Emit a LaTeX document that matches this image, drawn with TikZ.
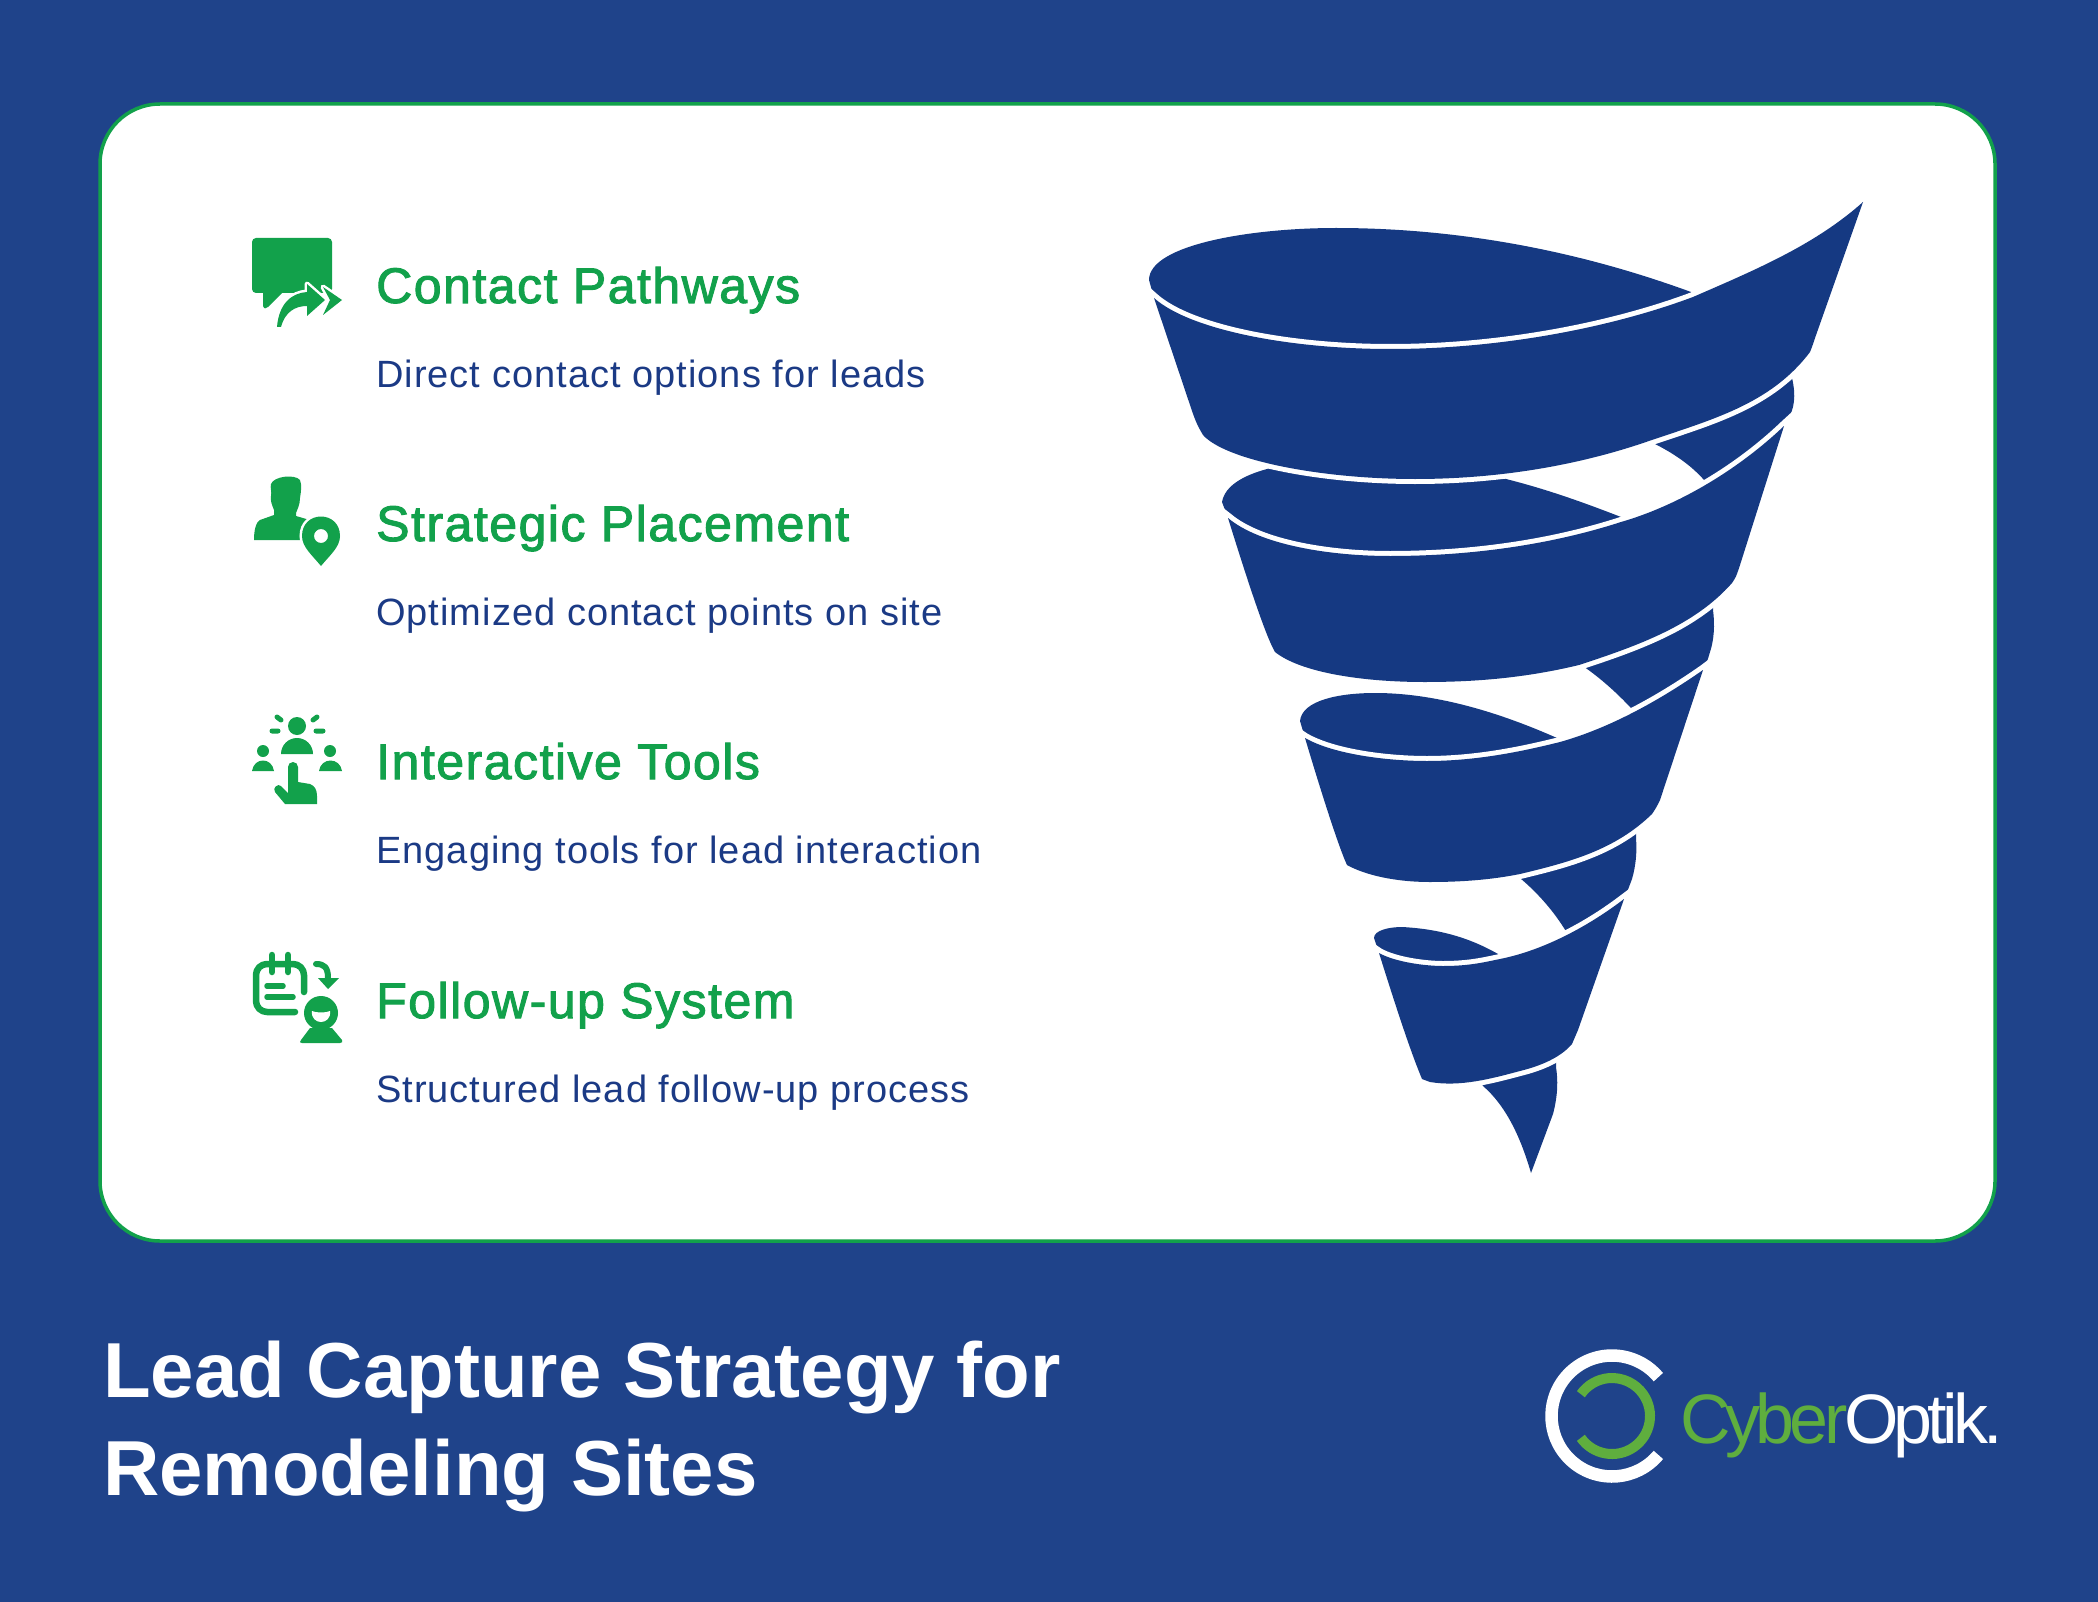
\documentclass[tikz,border=0pt]{standalone}
\usepackage{fontspec}
\setmainfont[LetterSpace=2.7]{Liberation Sans}
\newfontfamily\headfont[FakeBold=2,LetterSpace=3]{Liberation Sans}
\newfontfamily\titlefont{Liberation Sans}
\newfontfamily\logofont[LetterSpace=-7]{Liberation Sans}
\definecolor{bgblue}{HTML}{1F438A}
\definecolor{funnel}{HTML}{153982}
\definecolor{gr}{HTML}{12A14B}
\definecolor{txtblue}{HTML}{1B3A85}
\definecolor{logogreen}{HTML}{5FAE3E}
\tikzset{
 head/.style={anchor=base west,inner sep=0pt,text=gr,font=\headfont\fontsize{50}{58}\selectfont},
 desc/.style={anchor=base west,inner sep=0pt,text=txtblue,font=\fontsize{38}{44}\selectfont},
 ttl/.style={anchor=base west,inner sep=0pt,text=white,font=\titlefont\bfseries\fontsize{78}{90}\selectfont},
 logot/.style={anchor=base west,inner sep=0pt,font=\logofont\fontsize{70}{80}\selectfont},
 fun/.style={fill=funnel,draw=none},
 gap/.style={draw=white,line width=10pt,line cap=butt},
 ic/.style={fill=gr,draw=none},
 icl/.style={draw=gr,line cap=round,line join=round},
 halo/.style={draw=white,line width=5pt,line join=round},
}
\begin{document}
\begin{tikzpicture}[x=1pt,y=-1pt]
\useasboundingbox (0,0) rectangle (2098,1602);
\fill[bgblue] (0,0) rectangle (2098,1602);
\draw[gr,line width=3.5pt,fill=white,rounded corners=60pt] (100,104) rectangle (1995,1241);

% lids and back pieces, extended under the bands
\fill[fun] (1154,298) -- (1149,280) .. controls (1149,245) and (1250,228) .. (1336,228)
  .. controls (1470,228) and (1590,255) .. (1691,292) -- (1693,297)
  .. controls (1610,328) and (1500,349) .. (1390,349)
  .. controls (1290,349) and (1190,330) .. (1154,298) -- cycle;
\fill[fun] (1638,436) .. controls (1695,420) and (1755,395) .. (1795,368)
  -- (1792,378) .. controls (1796,395) and (1795,410) .. (1786,422)
  -- (1784,432) .. controls (1765,450) and (1735,475) .. (1712,490)
  .. controls (1695,466) and (1670,450) .. (1638,436) -- cycle;
\fill[fun] (1290,460) -- (1490,470) -- (1506,479)
  .. controls (1550,490) and (1590,505) .. (1621,517) -- (1621,522)
  .. controls (1550,545) and (1470,556) .. (1390,556)
  .. controls (1330,556) and (1260,545) .. (1228,518) -- (1222,502)
  .. controls (1225,485) and (1245,475) .. (1267,469) -- cycle;
\fill[fun] (1567,656) .. controls (1625,645) and (1675,625) .. (1713,603)
  -- (1713,610) .. controls (1715,625) and (1714,640) .. (1710,652)
  -- (1703,675) .. controls (1695,682) and (1665,700) .. (1640,718)
  .. controls (1620,695) and (1595,672) .. (1567,656) -- cycle;
\fill[fun] (1305,738) -- (1300,721) .. controls (1302,700) and (1340,693) .. (1375,693)
  .. controls (1440,693) and (1505,715) .. (1557,738) -- (1560,742)
  .. controls (1520,752) and (1475,761) .. (1427,761)
  .. controls (1390,761) and (1335,755) .. (1305,738) -- cycle;
\fill[fun] (1507,868) .. controls (1565,862) and (1605,848) .. (1636,831)
  -- (1636,838) .. controls (1637,852) and (1636,865) .. (1632,879)
  -- (1624,900) .. controls (1610,912) and (1590,925) .. (1572,942)
  .. controls (1558,915) and (1535,888) .. (1507,868) -- cycle;
\fill[fun] (1379,953) -- (1374,938) .. controls (1374,930) and (1390,927) .. (1402,927)
  .. controls (1440,929) and (1470,938) .. (1498,954) -- (1500,959)
  .. controls (1485,962) and (1470,966) .. (1443,966)
  .. controls (1425,966) and (1395,962) .. (1379,953) -- cycle;
\fill[fun] (1476,1075) -- (1556,1055) -- (1556,1067)
  .. controls (1558,1080) and (1558,1095) .. (1553,1114)
  -- (1531,1173)
  .. controls (1520,1135) and (1505,1105) .. (1483,1086) -- cycle;

% band 4
\draw[gap] (1370,947) -- (1379,953) .. controls (1395,962) and (1425,966) .. (1443,966)
  .. controls (1470,966) and (1485,962) .. (1500,959)
  .. controls (1545,950) and (1590,925) .. (1624,899) -- (1636,890);
\draw[gap] (1572,1044) .. controls (1560,1058) and (1540,1066) .. (1520,1071)
  .. controls (1490,1079) and (1460,1087) .. (1430,1082);
\fill[fun] (1379,953) .. controls (1395,962) and (1425,966) .. (1443,966)
  .. controls (1470,966) and (1485,962) .. (1500,959)
  .. controls (1545,950) and (1590,925) .. (1624,899)
  -- (1578,1030) .. controls (1575,1037) .. (1572,1044)
  .. controls (1560,1058) and (1540,1066) .. (1520,1071)
  .. controls (1490,1079) and (1460,1087) .. (1430,1082)
  -- (1422,1079) .. controls (1412,1055) and (1400,1020) .. (1379,953) -- cycle;
% band 3
\draw[gap] (1296,732) -- (1305,738) .. controls (1335,755) and (1390,761) .. (1427,761)
  .. controls (1475,761) and (1520,752) .. (1560,742)
  .. controls (1610,728) and (1660,700) .. (1703,670) -- (1715,661);
\draw[gap] (1652,814) .. controls (1615,850) and (1570,862) .. (1520,874)
  .. controls (1490,880) and (1460,882) .. (1430,882);
\fill[fun] (1305,738) .. controls (1335,755) and (1390,761) .. (1427,761)
  .. controls (1475,761) and (1520,752) .. (1560,742)
  .. controls (1610,728) and (1660,700) .. (1703,670)
  -- (1660,800) .. controls (1656,808) .. (1652,814)
  .. controls (1615,850) and (1570,862) .. (1520,874)
  .. controls (1490,880) and (1460,882) .. (1430,882)
  .. controls (1395,882) and (1365,875) .. (1347,865)
  .. controls (1340,850) and (1325,805) .. (1305,738) -- cycle;
% band 2
\draw[gap] (1219,511) -- (1228,518) .. controls (1260,545) and (1330,556) .. (1390,556)
  .. controls (1470,556) and (1550,545) .. (1621,522)
  .. controls (1680,505) and (1740,468) .. (1784,426) -- (1796,415);
\draw[gap] (1732,583) .. controls (1695,625) and (1640,645) .. (1579,665)
  .. controls (1525,678) and (1475,682) .. (1425,682);
\fill[fun] (1228,518) .. controls (1260,545) and (1330,556) .. (1390,556)
  .. controls (1470,556) and (1550,545) .. (1621,522)
  .. controls (1680,505) and (1740,468) .. (1784,426)
  -- (1740,565) .. controls (1736,577) .. (1732,583)
  .. controls (1695,625) and (1640,645) .. (1579,665)
  .. controls (1525,678) and (1475,682) .. (1425,682)
  .. controls (1360,682) and (1300,672) .. (1275,652)
  .. controls (1268,640) and (1255,605) .. (1228,518) -- cycle;
% band 1
\draw[gap] (1145,290) -- (1154,298) .. controls (1190,330) and (1290,349) .. (1390,349)
  .. controls (1500,349) and (1610,328) .. (1693,297)
  .. controls (1755,270) and (1815,245) .. (1863,202);
\draw[gap] (1810,352) .. controls (1770,405) and (1710,420) .. (1646,442)
  .. controls (1570,468) and (1490,479) .. (1415,479)
  .. controls (1320,479) and (1225,460) .. (1203,435);
\fill[fun] (1154,298) .. controls (1190,330) and (1290,349) .. (1390,349)
  .. controls (1500,349) and (1610,328) .. (1693,297)
  .. controls (1755,270) and (1815,245) .. (1863,202)
  -- (1815,338) .. controls (1812,347) .. (1810,352)
  .. controls (1770,405) and (1710,420) .. (1646,442)
  .. controls (1570,468) and (1490,479) .. (1415,479)
  .. controls (1320,479) and (1225,460) .. (1203,435)
  .. controls (1197,425) and (1195,420) .. (1190,405) -- cycle;

% icon 1
\fill[ic,rounded corners=4pt] (252,238) rectangle (332,293);
\fill[ic] (263,290) -- (263,306) .. controls (264,309) and (266,309) .. (268,307) -- (282,293) -- cycle;
\path[halo,fill=gr] (277,327) .. controls (279,303) and (292,293) .. (307,292) -- (307,284) -- (325,300) -- (307,316) -- (307,306) .. controls (295,306) and (285,312) .. (281,327) -- cycle;
\path[halo,fill=gr] (323,287) -- (342,300) -- (323,315) -- (330,300) -- cycle;
\fill[ic] (277,327) .. controls (279,303) and (292,293) .. (307,292) -- (307,284) -- (325,300) -- (307,316) -- (307,306) .. controls (295,306) and (285,312) .. (281,327) -- cycle;
\fill[ic] (323,287) -- (342,300) -- (323,315) -- (330,300) -- cycle;

% icon 2
\fill[ic] (271,484) .. controls (274,476) and (295,474) .. (300,480) .. controls (302,485) and (301,492) .. (300,498)
 .. controls (300,505) and (297,510) .. (296,513) -- (296,516) -- (320,523) -- (300,540) -- (254,540)
 .. controls (254,530) and (256,522) .. (260,520) -- (274,515) -- (274,510) .. controls (272,505) and (270,500) .. (271,496) .. controls (272,492) and (270,488) .. (271,484) -- cycle;
\draw[white,line width=5pt] (321,566) .. controls (312,555) and (302,547) .. (302,536) .. controls (302,510) and (340,510) .. (340,536) .. controls (340,547) and (330,555) .. (321,566) -- cycle;
\fill[ic,even odd rule] (321,566) .. controls (312,555) and (302,547) .. (302,536) .. controls (302,510) and (340,510) .. (340,536) .. controls (340,547) and (330,555) .. (321,566) -- cycle (321,536) circle (7);

% icon 3
\fill[ic] (297,726) circle (9);
\fill[ic] (281,754) arc (180:360:16) -- cycle;
\fill[ic] (263,751) circle (6);
\fill[ic] (252,771) .. controls (254,757) and (272,757) .. (274,771) -- cycle;
\fill[ic] (330,751) circle (6);
\fill[ic] (319,771) .. controls (321,757) and (340,757) .. (342,771) -- cycle;
\draw[icl,line width=5pt] (272,731) -- (278,731) (316,731) -- (323,731) (277,717) -- (281,720) (313,720) -- (317,717);
\fill[ic] (288,767) arc (180:360:5) -- (298,782) -- (310,784) .. controls (315,786) and (317,790) .. (317,796) -- (317,804) -- (285,804) -- (275,792) .. controls (272,788) and (278,783) .. (281,786) -- (288,793) -- cycle;

% icon 4
\draw[icl,line width=6.5pt,rounded corners=11pt] (304,992) -- (304,964) -- (256,964) -- (256,1012) -- (295,1012);
\draw[icl,line width=6.5pt] (272,955) -- (272,972) (288,955) -- (288,972);
\draw[icl,line width=5.5pt] (267,986) -- (283,986) (267,997) -- (293,997);
\draw[icl,line width=6pt,line cap=round] (316,964) .. controls (324,964) and (328,967) .. (328,978);
\fill[ic] (318,978) -- (339,978) -- (328,989) -- cycle;
\fill[ic] (321,1013) circle (17);
\fill[white] (312,1011) .. controls (316,1013) and (326,1013) .. (330,1011) .. controls (331,1018) and (326,1022) .. (321,1022) .. controls (316,1022) and (311,1018) .. (312,1011) -- cycle;
\fill[ic] (310,1028) -- (332,1028) -- (342,1040) .. controls (343,1042) and (342,1043) .. (340,1043) -- (302,1043) .. controls (300,1043) and (299,1042) .. (301,1040) -- cycle;

% text
\node[head] (h1) at (376,303) {Contact Pathways};
\node[desc] (d1) at (376,387) {Direct contact options for leads};
\node[head] (h2) at (376,541) {Strategic Placement};
\node[desc] (d2) at (376,625) {Optimized contact points on site};
\node[head] (h3) at (376,779) {Interactive Tools};
\node[desc] (d3) at (376,863) {Engaging tools for lead interaction};
\node[head] (h4) at (376,1018) {Follow-up System};
\node[desc] (d4) at (376,1102) {Structured lead follow-up process};
\node[ttl] (t1) at (103,1397) {Lead Capture Strategy for};
\node[ttl] (t2) at (103,1495) {Remodeling Sites};

% logo
\draw[white,line width=12.5pt] (1612,1416) ++(40:60.5) arc (40:320:60.5);
\draw[logogreen,line width=10pt] (1612,1416) ++(145:38) arc (145:-145:38);
\node[logot,text=logogreen] (l1) at (1680,1443) {Cyber};
\node[logot,text=white] (l2) at (1844,1443) {Optik.};
\end{tikzpicture}
\end{document}
